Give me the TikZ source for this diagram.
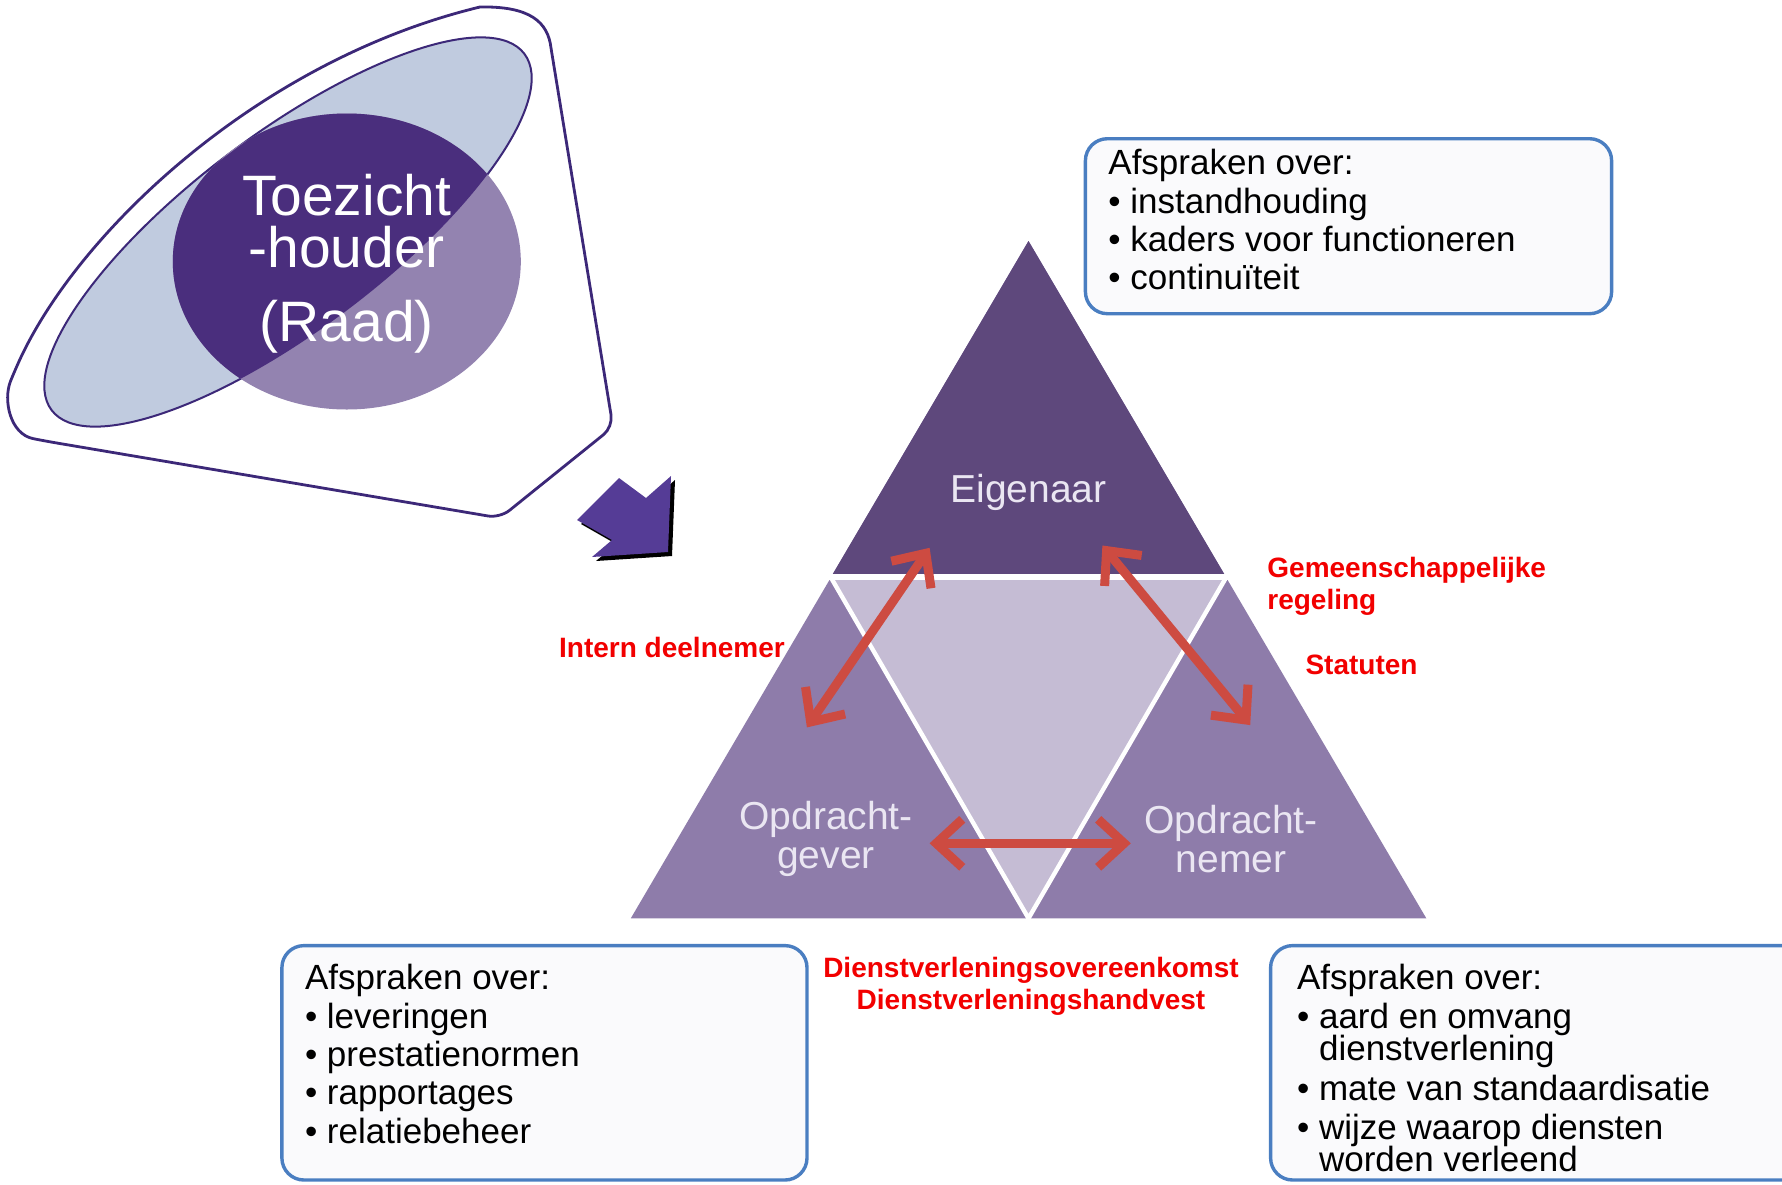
\documentclass[tikz,border=0pt]{standalone}
\usepackage{fontspec}
\setmainfont{Liberation Sans}
\usepackage{xcolor}
\usetikzlibrary{arrows.meta,positioning}
\definecolor{raadline}{RGB}{60,40,120}
\definecolor{raadfill}{RGB}{192,203,223}
\definecolor{raaddark}{RGB}{74,46,125}
\definecolor{raadlight}{RGB}{147,131,176}
\definecolor{pijlpurple}{RGB}{85,60,150}
\definecolor{eigenaarpurple}{RGB}{94,72,124}
\definecolor{sidepurple}{RGB}{142,124,170}
\definecolor{midlilac}{RGB}{197,188,212}
\definecolor{trianglefont}{RGB}{234,230,242}
\definecolor{relred}{RGB}{205,75,65}
\definecolor{labelred}{RGB}{242,0,0}
\definecolor{boxblue}{RGB}{74,126,193}
\definecolor{boxfill}{RGB}{250,250,252}

\begin{document}
\begin{tikzpicture}[x=0.5pt,y=-0.5pt,
    afsbox/.style={draw=boxblue, line width=1.7pt, fill=boxfill, rounded corners=11pt},
    afstext/.style={anchor=north west, align=left, inner sep=0pt, font=\fontsize{17.5}{19.2}\selectfont},
    triantext/.style={text=trianglefont, align=center, inner sep=0pt, font=\fontsize{19.5}{19.5}\selectfont},
    relarrow/.style={draw=relred, line width=4.5pt, {Straight Barb[length=13pt,width=24pt]}-{Straight Barb[length=13pt,width=24pt]}},
    rellabel/.style={text=labelred, inner sep=0pt, font=\bfseries\fontsize{14}{16}\selectfont}]
    \useasboundingbox (0,0) rectangle (1782,1184);

    % Toezichthouder (Raad)
    \draw[raadline, line width=1.4pt] (480,7) .. controls (530,6) and (548,22) .. (551,48)
        [rounded corners=6pt] -- (613,427) -- (500,518) -- (45,441)
        .. controls (10,434) and (3,400) .. (15,370)
        .. controls (80,230) and (260,60) .. (480,7);
    \fill[raadfill, draw=raadline, line width=1pt, rotate around={37:(288,232)}] (288,232) ellipse [x radius=296, y radius=98];
    \fill[raadlight] (346.8,261.5) ellipse [x radius=174, y radius=148];
    \begin{scope}
        \clip[rotate around={37:(288,232)}] (288,232) ellipse [x radius=296, y radius=98];
        \fill[raaddark] (346.8,261.5) ellipse [x radius=174, y radius=148];
    \end{scope}
    \node[text=white, align=center, inner sep=0pt, font=\fontsize{28.5}{26}\selectfont] (raad) at (346.6,264) {Toezicht\\-houder\\[11pt](Raad)};

    % 3D pijl
    \fill[black] (623,482) -- (650,502) -- (675,480) -- (672,556) -- (596,561) -- (616,544) -- (581,524) -- cycle;
    \fill[pijlpurple] (619,478) -- (646,498) -- (671,476) -- (668,552) -- (592,557) -- (612,540) -- (577,520) -- cycle;

    % Driehoek
    \fill[sidepurple] (1028.5,241) -- (630.8,918.3) -- (1426.3,918.3) -- cycle;
    \fill[eigenaarpurple] (1028.5,241) -- (830.8,577.3) -- (1226.2,577.3) -- cycle;
    \fill[midlilac] (830.8,577.3) -- (1226.2,577.3) -- (1028.5,918.3) -- cycle;
    \draw[white, line width=3pt] (826,577.3) -- (1231,577.3);
    \draw[white, line width=2.2pt] (830.8,577.3) -- (1028.5,918.3) -- (1226.2,577.3);

    \node[triantext] (eigenaar) at (1028.5,492) {Eigenaar};
    \node[triantext] (opdrgever) at (826,839) {Opdracht-\\gever};
    \node[triantext] (opdrnemer) at (1231,839) {Opdracht-\\nemer};

    % Relaties
    \coordinate (eigL) at (929.6,547.8);
    \coordinate (geverT) at (806.9,727.4);
    \coordinate (eigR) at (1102.4,545.5);
    \coordinate (nemerT) at (1250.2,725.1);
    \coordinate (geverR) at (929.6,843.3);
    \coordinate (nemerL) at (1130.8,843.3);
    \draw[relarrow] (eigL) -- (geverT);
    \draw[relarrow] (eigR) -- (nemerT);
    \draw[relarrow] (geverR) -- (nemerL);

    \node[rellabel, anchor=west, align=left] (gemreg) at (1267,586) {Gemeenschappelijke\\regeling};
    \node[rellabel] (statuten) at (1361.5,665) {Statuten};
    \node[rellabel] (intern) at (672,647) {Intern deelnemer};
    \node[rellabel, align=center] (dvo) at (1031,986) {Dienstverleningsovereenkomst\\Dienstverleningshandvest};

    % Afspraken
    \draw[afsbox] (1085.4,138.7) rectangle (1611.6,313.7);
    \node[afstext] (afseigen) at (1108,149) {Afspraken over:\\• instandhouding\\• kaders voor functioneren\\• continuïteit};

    \draw[afsbox] (281.9,945.6) rectangle (807,1180);
    \node[afstext] (afsgever) at (304.6,964) {Afspraken over:\\• leveringen\\• prestatienormen\\• rapportages\\• relatiebeheer};

    \draw[afsbox] (1270.6,945.6) rectangle (1820,1180);
    \node[afstext] (afsnemer) at (1296.7,964) {Afspraken over:\\• aard en omvang\\[-3pt]\hphantom{• }dienstverlening\\[1pt]• mate van standaardisatie\\• wijze waarop diensten\\[-3pt]\hphantom{• }worden verleend};
\end{tikzpicture}
\end{document}
